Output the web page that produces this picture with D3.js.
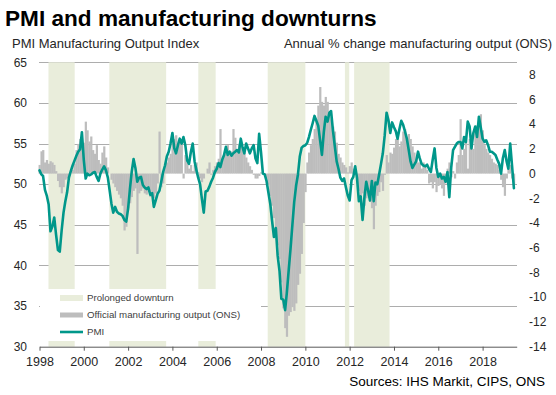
<!DOCTYPE html>
<html><head><meta charset="utf-8">
<script src="https://cdn.jsdelivr.net/npm/d3@7/dist/d3.min.js"></script>
<style>
html,body{margin:0;padding:0;background:#fff;}
svg{display:block;font-family:"Liberation Sans",Arial,sans-serif;}
</style></head><body>
<svg id="chart" width="556" height="395"></svg>
<script>
// ---- DATA ----
const startYear = 1998;
// PMI Manufacturing Output Index, monthly Jan 1998 - Jun 2019
const pmi = [
  51.7, 51.2, 51.0, 49.3, 48.6, 47.5, 44.2, 44.8, 45.9, 43.8, 41.9, 41.7, // 1998
  44.3, 46.5, 47.8, 49.0, 50.8, 51.6, 52.3, 52.9, 53.5, 54.0, 54.3, 56.4, // 1999
  53.0, 50.7, 51.3, 51.1, 51.2, 51.4, 51.5, 50.9, 50.4, 51.3, 51.8, 52.2, // 2000
  51.7, 50.8, 49.3, 47.6, 46.5, 47.2, 46.6, 46.4, 46.3, 46.1, 45.6, 45.4, // 2001
  47.0, 49.5, 51.5, 53.1, 52.0, 50.3, 50.8, 50.9, 49.9, 49.6, 49.4, 49.6, // 2002
  48.7, 48.9, 47.2, 48.0, 48.8, 49.2, 50.3, 51.5, 52.3, 53.4, 54.0, 55.0, // 2003
  56.3, 54.4, 53.8, 54.8, 55.6, 55.0, 55.8, 54.8, 52.9, 52.5, 54.0, 55.0, // 2004
  52.8, 51.7, 50.8, 50.0, 48.2, 46.5, 49.1, 49.2, 49.7, 50.3, 50.8, 51.5, // 2005
  51.9, 52.6, 52.1, 53.0, 53.6, 54.6, 53.6, 54.0, 53.5, 53.8, 54.0, 54.2, // 2006
  53.9, 55.6, 54.6, 53.8, 55.0, 54.4, 53.8, 54.4, 54.8, 53.2, 52.6, 56.2, // 2007
  53.9, 51.3, 51.2, 50.4, 49.0, 47.6, 45.5, 43.5, 44.6, 41.2, 39.3, 35.9, // 2008
  35.8, 34.5, 36.6, 39.4, 42.0, 45.0, 47.8, 49.8, 51.2, 53.4, 54.5, 54.7, // 2009
  54.8, 55.1, 55.8, 56.7, 57.5, 58.4, 57.8, 57.2, 55.4, 53.6, 56.4, 58.3, // 2010
  57.7, 58.8, 59.0, 56.6, 54.7, 52.8, 51.9, 50.8, 50.4, 50.7, 49.6, 48.6, // 2011
  48.0, 50.5, 50.9, 52.2, 50.8, 47.9, 48.5, 45.6, 48.4, 50.3, 49.2, 48.0, // 2012
  50.4, 47.9, 50.2, 50.0, 51.2, 52.5, 53.8, 56.0, 58.8, 57.9, 56.3, 57.6, // 2013
  57.0, 56.5, 55.6, 56.8, 57.8, 57.3, 56.5, 55.6, 54.2, 52.8, 52.0, 52.4, // 2014
  52.8, 54.0, 53.2, 52.5, 52.3, 52.2, 52.4, 51.9, 51.5, 53.0, 54.4, 52.0, // 2015
  50.9, 51.3, 50.7, 50.9, 50.3, 51.5, 48.4, 52.0, 54.2, 54.6, 55.0, 55.2, // 2016
  55.2, 54.4, 55.8, 55.2, 57.7, 57.1, 54.4, 56.3, 57.1, 55.8, 58.3, 57.0, // 2017
  55.6, 55.2, 55.4, 54.8, 54.0, 54.0, 53.8, 53.6, 53.0, 52.5, 51.3, 53.2, // 2018
  54.2, 52.8, 51.9, 55.0, 52.3, 49.5                                      // 2019
];
// Official manufacturing output (ONS), annual % change, monthly
const ons = [
  0.7, 1.8, 1.9, 0.9, 1.1, 0.8, 1.0, 0.9, 0.7, 0.2, -0.6, -1.1,            // 1998
  -1.6, -1.1, -0.5, -0.4, -0.2, 0.0, 0.3, 0.8, 1.9, 2.4, 2.8, 2.3,         // 1999
  2.5, 4.2, 3.5, 2.6, 3.0, 1.9, 1.6, 2.3, 1.1, 0.8, 1.7, 2.2,              // 2000
  1.3, 0.5, 0.0, -0.5, -0.8, -1.1, -1.4, -1.7, -2.0, -2.6, -4.6, -4.3,     // 2001
  -2.8, -2.4, -1.9, -1.4, -1.2, -6.5, -1.6, -1.4, -1.2, -1.6, -1.7, -1.5,  // 2002
  -1.9, -1.7, -2.0, -1.6, -0.8, 3.4, -1.1, -0.8, 0.6, 0.9, 1.3, 1.6,       // 2003
  2.6, 2.8, 3.1, 2.3, 2.8, 2.8, -0.4, 1.5, 0.9, 0.4, 0.7, 0.2,             // 2004
  0.7, 0.9, 0.1, -0.4, -0.7, -0.4, 0.0, 0.4, 0.9, -0.1, 0.3, 0.6,          // 2005
  0.9, 1.2, 3.6, 0.9, 1.5, 2.0, 2.3, 1.7, 1.8, 3.6, 2.9, 2.0,              // 2006
  2.4, 2.2, 2.0, 1.7, 1.3, 0.9, 0.6, 0.3, -0.1, -0.4, -0.4, -0.2,          // 2007
  0.1, 0.0, -0.1, -0.4, -0.9, -1.8, -2.6, -3.6, -4.7, -5.8, -6.9, -8.8,    // 2008
  -10.9, -12.5, -13.2, -11.5, -11.2, -10.8, -11.1, -10.5, -9.0, -8.1, -6.5, -4.0, // 2009
  -1.5, 0.9, 1.7, 2.3, 2.8, 3.6, 4.4, 5.5, 7.0, 5.8, 5.5, 6.2,             // 2010
  5.8, 4.8, 4.4, 3.8, 3.4, 2.5, 1.6, 1.3, 0.9, 0.7, 0.5, 0.1,              // 2011
  0.6, 0.9, 0.4, -0.1, -0.7, -1.4, -2.0, -1.6, -2.6, -2.0, -1.8, -2.3,     // 2012
  -2.8, -4.5, -2.6, -1.8, -1.5, -0.7, -1.4, -0.1, 1.5, 0.9, 1.7, 1.6,      // 2013
  2.1, 2.8, 3.1, 2.2, 2.6, 3.4, 3.6, 2.8, 3.2, 2.8, 2.2, 1.7,              // 2014
  1.2, 0.9, 0.9, 0.4, 0.9, 0.7, 0.3, -0.8, -0.7, -1.2, -0.7, -1.5,         // 2015
  -1.0, -0.9, -1.2, -1.8, -0.8, 0.4, 0.9, -0.3, 0.2, -0.4, 0.9, 1.5,       // 2016
  4.4, 1.5, 2.0, 2.6, 0.4, 2.8, 2.6, 2.0, 3.4, 3.9, 4.4, 4.8,              // 2017
  3.5, 2.3, 2.0, 1.7, 1.5, 1.2, 0.9, 0.8, 0.7, 0.3, -0.5, -1.1,            // 2018
  -1.8, -0.4, 0.4, 0.7, -0.4, -0.9                                         // 2019
];
// Prolonged downturn periods (start, end)
const downturns = [
  ["1998-05-29", "1999-08-04"],
  ["2001-02-25", "2003-09-20"],
  ["2005-03-03", "2005-12-14"],
  ["2008-04-20", "2010-01-01"],
  ["2011-10-15", "2011-12-25"],
  ["2012-03-15", "2013-10-20"]
];
const yearTicks = [1998, 2000, 2002, 2004, 2006, 2008, 2010, 2012, 2014, 2016, 2018];
const leftTicks = [30, 35, 40, 45, 50, 55, 60, 65];
const rightTicks = [-14, -12, -10, -8, -6, -4, -2, 0, 2, 4, 6, 8];
const legendLabels = ["Prolonged downturn", "Official manufacturing output (ONS)", "PMI"];
const titleText = "PMI and manufacturing downturns";
const leftTitle = "PMI Manufacturing Output Index";
const rightTitle = "Annual % change manufacturing output (ONS)";
const sourceText = "Sources: IHS Markit, CIPS, ONS";

// ---- STYLE ----
const C = { shade: "#e9eddb", bar: "#bdbdbd", line: "#00978a", grid: "#5a5a5a", text: "#262626" };

const months = pmi.map((_, i) => new Date(startYear, i, 1));
const svg = d3.select("#chart");
const parse = d3.timeParse("%Y-%m-%d");

const x = d3.scaleTime().domain([new Date(1998, 0, 1), new Date(2019, 6, 17)]).range([39.5, 516.7]);
const yL = d3.scaleLinear().domain([30, 65]).range([346.7, 62.3]);
const yR = d3.scaleLinear().domain([-14, 9]).range([346.7, 62.3]);
const [x0, x1] = x.range();

// gridlines
svg.append("g").selectAll("line").data(leftTicks.filter(d => d > 30)).join("line")
  .attr("x1", x0).attr("x2", x1).attr("y1", d => Math.round(yL(d)) + 0.5).attr("y2", d => Math.round(yL(d)) + 0.5)
  .attr("stroke", C.grid).attr("stroke-width", 1).attr("stroke-dasharray", "1,1");

// shading
svg.append("g").selectAll("rect").data(downturns).join("rect")
  .attr("x", d => x(parse(d[0]))).attr("width", d => x(parse(d[1])) - x(parse(d[0])))
  .attr("y", yL(65)).attr("height", yL(30) - yL(65)).attr("fill", C.shade);

// legend background
svg.append("rect").attr("x", 40).attr("y", 289).attr("width", 221).attr("height", 52).attr("fill", "#fff");

// bars
const bw = (x(new Date(2000, 1, 1)) - x(new Date(2000, 0, 1)));
svg.append("g").selectAll("rect").data(ons).join("rect")
  .attr("x", (d, i) => x(months[i]) - bw / 2)
  .attr("width", bw + 0.35)
  .attr("y", d => Math.min(yR(d), yR(0)))
  .attr("height", d => Math.abs(yR(d) - yR(0)))
  .attr("fill", C.bar);

// PMI line
svg.append("path").datum(pmi)
  .attr("d", d3.line().x((d, i) => x(months[i])).y(d => yL(d)))
  .attr("fill", "none").attr("stroke", C.line).attr("stroke-width", 2.6)
  .attr("stroke-linejoin", "round").attr("stroke-linecap", "round");

// x axis
const xa = svg.append("g").attr("transform", `translate(0,${yL(30)})`)
  .call(d3.axisBottom(x).tickValues(yearTicks.map(y => new Date(y, 0, 1)))
    .tickFormat(d3.timeFormat("%Y")).tickSize(4).tickSizeOuter(0).tickPadding(6));
xa.select(".domain").attr("stroke", "#595959");
xa.selectAll(".tick line").attr("stroke", "#595959");
xa.selectAll("text").attr("font-size", 12.5).attr("fill", C.text).attr("font-family", "Liberation Sans, Arial, sans-serif");

// left labels
svg.append("g").selectAll("text").data(leftTicks).join("text")
  .attr("x", 27).attr("y", d => yL(d)).attr("dy", "0.35em").attr("text-anchor", "end")
  .attr("font-size", 12).attr("fill", C.text).text(d => d);
// right labels
svg.append("g").selectAll("text").data(rightTicks).join("text")
  .attr("x", 529).attr("y", d => yR(d)).attr("dy", "0.35em").attr("text-anchor", "start")
  .attr("font-size", 12).attr("fill", C.text).text(d => d);

// titles
svg.append("text").attr("x", 5).attr("y", 26).attr("font-size", 22.6).attr("font-weight", "bold")
  .attr("fill", "#000").text(titleText);
svg.append("text").attr("x", 12).attr("y", 48).attr("font-size", 13).attr("fill", C.text).text(leftTitle);
svg.append("text").attr("x", 552).attr("y", 48).attr("text-anchor", "end").attr("font-size", 13).attr("fill", C.text).text(rightTitle);
svg.append("text").attr("x", 545).attr("y", 386).attr("text-anchor", "end").attr("font-size", 13.5).attr("fill", "#000").text(sourceText);

// legend
const lg = svg.append("g").attr("font-size", 9.7).attr("fill", "#404040");
const ly = [298, 315, 332];
lg.append("rect").attr("x", 60).attr("y", ly[0] - 3).attr("width", 23).attr("height", 6).attr("fill", C.shade);
lg.append("rect").attr("x", 60).attr("y", ly[1] - 2.5).attr("width", 23).attr("height", 5).attr("fill", C.bar);
lg.append("line").attr("x1", 60).attr("x2", 83).attr("y1", ly[2]).attr("y2", ly[2]).attr("stroke", C.line).attr("stroke-width", 2.6);
lg.selectAll("text").data(legendLabels).join("text")
  .attr("x", 87).attr("y", (d, i) => ly[i]).attr("dy", "0.35em").text(d => d);
</script>
</body></html>
